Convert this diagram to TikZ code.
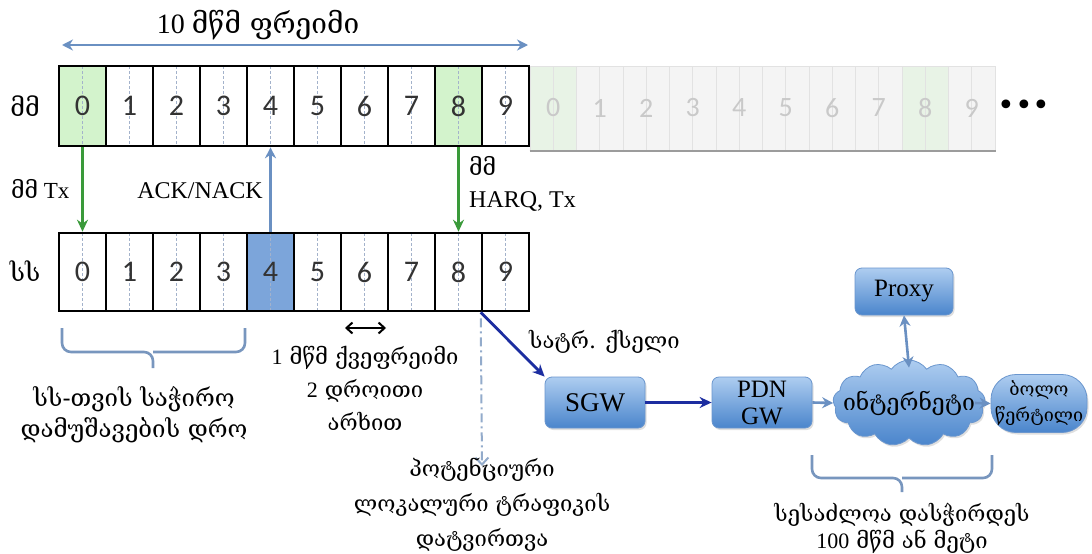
\documentclass[tikz,border=0pt]{standalone}
\usepackage{fontspec}
\setmainfont{Liberation Serif}
\newfontfamily\geofont{DejaVu Serif}
\newfontfamily\digfont{Carlito}
\newfontfamily\symfont{DejaVu Sans}
\usetikzlibrary{arrows.meta,shapes.symbols,shadows}

\definecolor{cellgreen}{HTML}{D3F3CC}
\definecolor{cellblue}{HTML}{7CA5DA}
\definecolor{celltext}{HTML}{333333}
\definecolor{cellmid}{HTML}{A3B2CB}
\definecolor{ghostfill}{HTML}{F4F4F4}
\definecolor{ghostgreen}{HTML}{E8F3E6}
\definecolor{ghostline}{HTML}{E2E2E2}
\definecolor{ghosttext}{HTML}{C9C9C9}
\definecolor{ghostbase}{HTML}{9C9C9C}
\definecolor{arrowgreen}{HTML}{3A9A3A}
\definecolor{steel}{HTML}{6A90C2}
\definecolor{navy}{HTML}{1C2DA0}
\definecolor{bracecol}{HTML}{7896BE}
\definecolor{boxtop}{HTML}{AECDF0}
\definecolor{boxbot}{HTML}{4A85CC}
\definecolor{boxedge}{HTML}{6A96CE}

\newcommand\latn[1]{{\rmfamily #1}}
\newcommand\celldigit[1]{\raisebox{-4pt}{#1}}

\tikzset{
  cellbase/.style={draw=black, line width=2.6pt, minimum width=47pt,
    inner sep=0pt, text=celltext, font=\digfont\fontsize{30}{30}\selectfont,
    path picture={\draw[cellmid, line width=1.2pt, dash pattern=on 3pt off 2pt]
      (path picture bounding box.north) -- (path picture bounding box.south);}},
  ghostcell/.style={draw=ghostline, line width=1pt, minimum width=46.5pt,
    minimum height=84pt, inner sep=0pt, text=ghosttext,
    font=\digfont\fontsize{28}{28}\selectfont,
    path picture={\draw[ghostline, line width=1pt]
      (path picture bounding box.north) -- (path picture bounding box.south);}},
  geo/.style={font=\geofont\fontsize{22}{30}\selectfont, inner sep=0pt, align=center},
  lab/.style={font=\rmfamily\fontsize{24}{28}\selectfont, inner sep=0pt},
  box/.style={rounded corners=7pt, draw=boxedge, line width=0.8pt,
    top color=boxtop, bottom color=boxbot, inner sep=0pt, align=center,
    drop shadow={opacity=0.25, shadow xshift=1.5pt, shadow yshift=-2pt},
    font=\rmfamily\fontsize{27}{28}\selectfont},
  greenarrow/.style={arrowgreen, line width=2.6pt, -{Stealth[length=12pt,width=11pt]}},
  steelarrow/.style={steel, line width=2.6pt, -{Stealth[length=11pt,width=11pt]}},
  steeldouble/.style={steel, line width=2.6pt, {Stealth[length=11pt,width=11pt]}-{Stealth[length=11pt,width=11pt]}},
  navyarrow/.style={navy, line width=2.8pt, -{Stealth[length=12pt,width=11pt]}},
  bracket/.style={bracecol, line width=2.6pt, rounded corners=9pt},
}

\begin{document}
\begin{tikzpicture}[x=1pt, y=-1pt]
\useasboundingbox[fill=white] (0,0) rectangle (1092,554);

% frame title and its span
\node[inner sep=0pt] (title) at (258,25)
  {\fontsize{28}{30}\selectfont\latn{10} {\geofont მწმ ფრეიმი}};
\coordinate (spanL) at (62,45);
\coordinate (spanR) at (528,45);
\draw[steeldouble, line width=2.4pt] (spanL) -- (spanR);

% repeated (faded) frame
\foreach \i/\c in {0/ghostgreen,1/ghostfill,2/ghostfill,3/ghostfill,4/ghostfill,
                   5/ghostfill,6/ghostfill,7/ghostfill,8/ghostgreen,9/ghostfill}
  \node[ghostcell, fill=\c] (g\i) at (553.25+46.5*\i,108) {\celldigit{\i}};
\draw[ghostbase, line width=2pt] (g0.south west) -- (g9.south east);
\node[font=\symfont\fontsize{30}{30}\selectfont, inner sep=0pt] (dots) at (1024,108) {•••};

% base station frame
\foreach \i/\c in {0/cellgreen,1/white,2/white,3/white,4/white,
                   5/white,6/white,7/white,8/cellgreen,9/white}
  \node[cellbase, minimum height=80pt, fill=\c] (t\i) at (82.5+47*\i,106) {\celldigit{\i}};

% user device frame
\foreach \i/\c in {0/white,1/white,2/white,3/white,4/cellblue,
                   5/white,6/white,7/white,8/white,9/white}
  \node[cellbase, minimum height=78pt, fill=\c] (b\i) at (82.5+47*\i,272) {\celldigit{\i}};

% row labels
\node[geo, font=\geofont\fontsize{25}{25}\selectfont] (bsLab) at (25,106) {მმ};
\node[geo, font=\geofont\fontsize{25}{25}\selectfont] (ueLab) at (25,271) {სს};

% transmissions between the frames
\draw[greenarrow] (t0.south) -- (b0.north);
\draw[greenarrow] (t8.south) -- (b8.north);
\draw[steelarrow] (b4.north) -- (t4.south);

\node[inner sep=0pt, anchor=west] (txLab) at (11,189)
  {\fontsize{23}{24}\selectfont{\geofont მმ} \latn{Tx}};
\node[lab] (ackLab) at (200,191) {ACK/NACK};
\node[geo, anchor=west, font=\geofont\fontsize{23}{24}\selectfont] (harqGeo) at (469,166) {მმ};
\node[lab, anchor=west] (harqLab) at (469,201) {HARQ, Tx};

% subframe width
\coordinate (subL) at (345,328);
\coordinate (subR) at (386,328);
\draw[black, line width=2pt, {Straight Barb[length=6pt,width=11pt]}-{Straight Barb[length=6pt,width=11pt]}] (subL) -- (subR);
\node[geo, font=\geofont\fontsize{22}{33}\selectfont] (subLab) at (365,388)
  {\latn{1} მწმ ქვეფრეიმი\\\latn{2} დროითი\\არხით};

% processing time bracket
\coordinate (brL) at (62,328);
\coordinate (brR) at (245,328);
\coordinate (brT) at (153,368);
\draw[bracket] (brL) -- (62,352) -- (153,352) -- (brT);
\draw[bracket] (brR) -- (245,352) -- (153,352);
\node[geo, font=\geofont\fontsize{24}{31}\selectfont] (procLab) at (134,415)
  {სს-თვის საჭირო\\დამუშავების დრო};

% local breakout path
\coordinate (localEnd) at (482,466);
\draw[bracecol!80, line width=2pt, dash pattern=on 9pt off 4pt on 2pt off 4pt,
  shorten <=6pt, -{Straight Barb[length=7pt,width=13pt]}] (b9.south west) -- (localEnd);
\node[geo, font=\geofont\fontsize{22}{35}\selectfont] (localLab) at (482,505)
  {პოტენციური\\ლოკალური ტრაფიკის\\დატვირთვა};

% core network
\node[box, minimum width=100pt, minimum height=51pt] (sgw) at (595,402.5) {SGW};
\node[box, minimum width=100pt, minimum height=51pt,
  font=\rmfamily\fontsize{25}{27}\selectfont] (pdn) at (762,402.5) {PDN\\GW};
\node[box, minimum width=98pt, minimum height=47pt,
  font=\rmfamily\fontsize{25}{26}\selectfont] (proxy) at (904,291.5) {Proxy};
\node[cloud, cloud puffs=13, cloud puff arc=110, aspect=1.9, draw=boxedge,
  line width=0.8pt, top color=boxtop, bottom color=boxbot,
  minimum width=152pt, minimum height=86pt, inner sep=0pt,
  drop shadow={opacity=0.25, shadow xshift=1.5pt, shadow yshift=-2pt}]
  (cloud) at (909,403) {};
\node[geo, font=\geofont\fontsize{23}{24}\selectfont] (inet) at (909,403) {ინტერნეტი};
\node[box, rounded corners=25pt, minimum width=96pt, minimum height=58pt,
  font=\geofont\fontsize{18}{26}\selectfont] (endp) at (1039,403.5) {ბოლო\\წერტილი};

\draw[navyarrow] (b9.south west) -- (sgw.north west);
\node[geo, anchor=west] (trLab) at (529,342) {სატრ. ქსელი};
\draw[navyarrow] (sgw.east) -- (pdn.west);
\draw[steelarrow] (pdn.east) -- (cloud.west);
\draw[steelarrow] ([xshift=-10pt]cloud.east) -- (endp.west);
\draw[steeldouble] (proxy.south) -- ([yshift=-8pt]cloud.north);

% internet delay bracket
\coordinate (br2L) at (812,455);
\coordinate (br2R) at (992,455);
\coordinate (br2T) at (902,492);
\draw[bracket] (br2L) -- (812,478) -- (902,478) -- (br2T);
\draw[bracket] (br2R) -- (992,478) -- (902,478);
\node[geo, font=\geofont\fontsize{22}{27}\selectfont] (delayLab) at (902,528)
  {სესაძლოა დასჭირდეს\\\latn{100} მწმ ან მეტი};
\end{tikzpicture}
\end{document}
